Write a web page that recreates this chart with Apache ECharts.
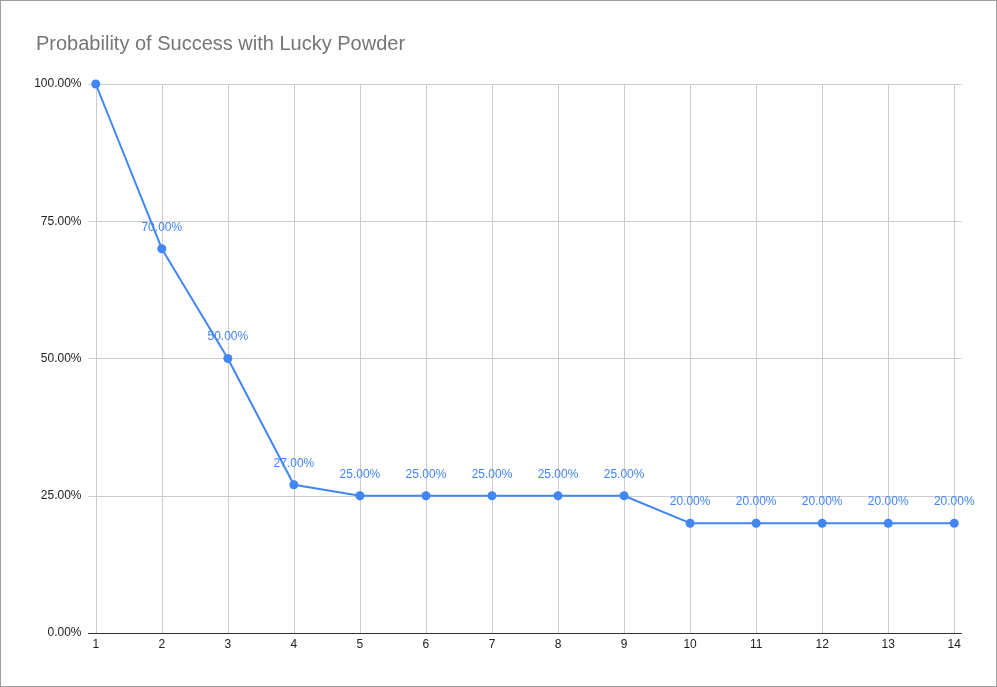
<!DOCTYPE html>
<html>
<head>
<meta charset="utf-8">
<script src="https://cdn.jsdelivr.net/npm/echarts@6/dist/echarts.min.js"></script>
<style>
html,body{margin:0;padding:0;background:#fff;}
#wrap{width:997px;height:687px;box-sizing:border-box;border:1px solid #9e9e9e;position:relative;}
#chart{position:absolute;left:-1px;top:-1px;width:997px;height:687px;}
</style>
</head>
<body>
<div id="wrap"><div id="chart"></div></div>
<script>
const categories = [1,2,3,4,5,6,7,8,9,10,11,12,13,14];
const probabilities = [1.00,0.70,0.50,0.27,0.25,0.25,0.25,0.25,0.25,0.20,0.20,0.20,0.20,0.20];
const yTicks = [0,0.25,0.5,0.75,1];

const chart = echarts.init(document.getElementById('chart'));
const pct = v => (v*100).toFixed(2) + '%';
chart.setOption({
  animation:false,
  title:{text:'Probability of Success with Lucky Powder',left:31,top:29,
    textStyle:{fontFamily:'Arial, Liberation Sans',fontSize:20,fontWeight:'normal',color:'#757575'}},
  grid:{left:88.5,right:35.5,top:84,bottom:54},
  xAxis:{type:'value',min:0.89,max:14.11,
    axisLine:{lineStyle:{color:'#333',width:1}},
    axisTick:{show:false,customValues:categories},
    axisLabel:{customValues:categories,color:'#222',fontSize:12,fontFamily:'Arial, Liberation Sans',margin:6,formatter:v=>String(v)},
    splitLine:{show:true,lineStyle:{color:'#cccccc',width:1}}
  },
  yAxis:{type:'value',min:0,max:1,interval:0.25,
    axisLine:{show:false},axisTick:{show:false},
    axisLabel:{color:'#222',fontSize:12,fontFamily:'Arial, Liberation Sans',margin:7,formatter:pct},
    splitLine:{lineStyle:{color:'#cccccc',width:1}}
  },
  series:[{
    type:'line',
    data:categories.map((c,i)=>({value:[c,probabilities[i]],label:{show:i>0}})),
    symbol:'circle',symbolSize:9,
    lineStyle:{color:'#4285f4',width:2},
    itemStyle:{color:'#4285f4'},
    label:{show:true,position:'top',distance:11,color:'#4285f4',fontSize:12,fontFamily:'Arial, Liberation Sans',
      formatter:p=>pct(p.value[1])}
  }]
});
</script>
</body>
</html>
